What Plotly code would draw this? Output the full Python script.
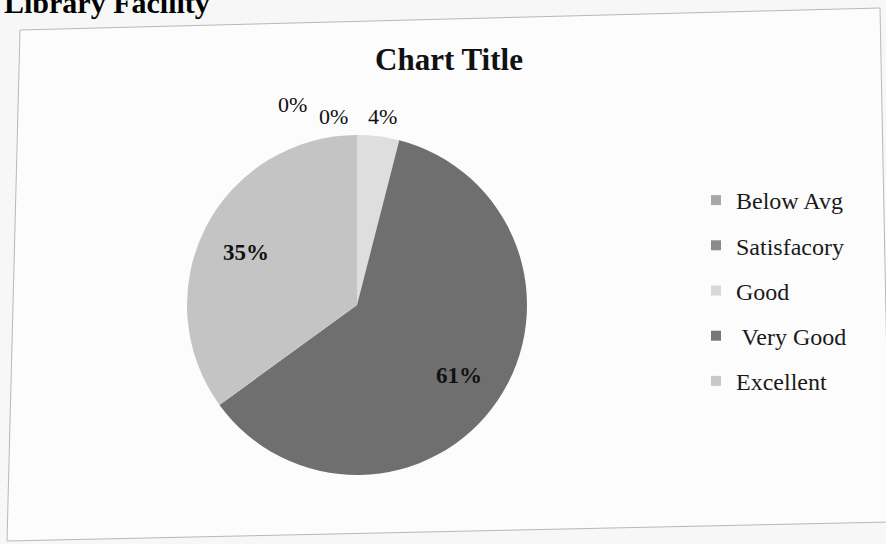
import plotly.graph_objects as go

categories = ["Below Avg", "Satisfacory", "Good", " Very Good", "Excellent"]
values = [0, 0, 4, 61, 35]
pie_colors = ["#a6a6a6", "#8a8a8a", "#dedede", "#6f6f6f", "#c4c4c4"]
legend_colors = ["#a8a8a8", "#8a8a8a", "#d8d8d8", "#777777", "#c8c8c8"]

total = sum(values)
pct = [f"{round(100 * v / total)}%" for v in values]

W, H = 886, 544
SERIF = "Liberation Serif, Times New Roman, serif"

fig = go.Figure()

fig.add_trace(go.Pie(
    labels=categories,
    values=values,
    textinfo="none",
    marker=dict(colors=pie_colors, line=dict(width=0)),
    sort=False,
    direction="clockwise",
    rotation=0,
    showlegend=False,
    hoverinfo="label+percent",
    domain=dict(x=[(357 - 170) / W, (357 + 170) / W],
                y=[(H - 305 - 170) / H, (H - 305 + 170) / H]),
))

for i, (c, col) in enumerate(zip(categories, legend_colors)):
    fig.add_trace(go.Scatter(
        x=[None], y=[None], mode="markers", name=c,
        marker=dict(symbol="square", size=10, color=col),
        legendgroup=f"g{i}", showlegend=True,
    ))

# Data labels (text from the data, placed like the original)
label_pos = [(292, 104), (333, 116), (382, 116), (459, 375), (246, 252)]
for i, ((px, py), t) in enumerate(zip(label_pos, pct)):
    inside = values[i] >= 10
    fig.add_annotation(
        x=px / W, y=1 - py / H, xref="paper", yref="paper",
        xanchor="center", yanchor="middle",
        text=f"<b>{t}</b>" if inside else t, showarrow=False,
        font=dict(family=SERIF, size=23 if inside else 22, color="#111111"))

# Heading partly cut off at the top
fig.add_annotation(x=2 / W, y=1 + 16 / H, xref="paper", yref="paper",
                   xanchor="left", yanchor="top", text="<b>Library Facility</b>",
                   showarrow=False,
                   font=dict(family=SERIF, size=30, color="black"))

# Chart frame (slightly skewed, like the scan)
fig.add_shape(type="path", xref="paper", yref="paper",
              path=(f"M {20/W},{1-30/H} L {880/W},{1-8/H} "
                    f"L {890/W},{1-522/H} L {7/W},{1-541/H} Z"),
              line=dict(color="#b8b8b8", width=1), fillcolor="#fcfcfc",
              layer="below")

fig.update_layout(
    width=W, height=H,
    margin=dict(l=0, r=0, t=0, b=0),
    paper_bgcolor="#f7f7f7",
    plot_bgcolor="rgba(0,0,0,0)",
    title=dict(text="<b>Chart Title</b>", x=449 / W, xanchor="center",
               y=1 - 59 / H, yanchor="middle",
               font=dict(family=SERIF, size=31, color="#111111")),
    xaxis=dict(visible=False),
    yaxis=dict(visible=False),
    legend=dict(x=696 / W, y=1 - 178 / H, xanchor="left", yanchor="top",
                font=dict(family=SERIF, size=24, color="#1a1a1a"),
                tracegroupgap=11, bgcolor="rgba(0,0,0,0)",
                itemclick=False),
    showlegend=True,
)

fig.write_html("out.html",
               config={"displayModeBar": False},
               post_script="document.body.style.margin='0';"
                           "document.body.style.overflow='hidden';")
